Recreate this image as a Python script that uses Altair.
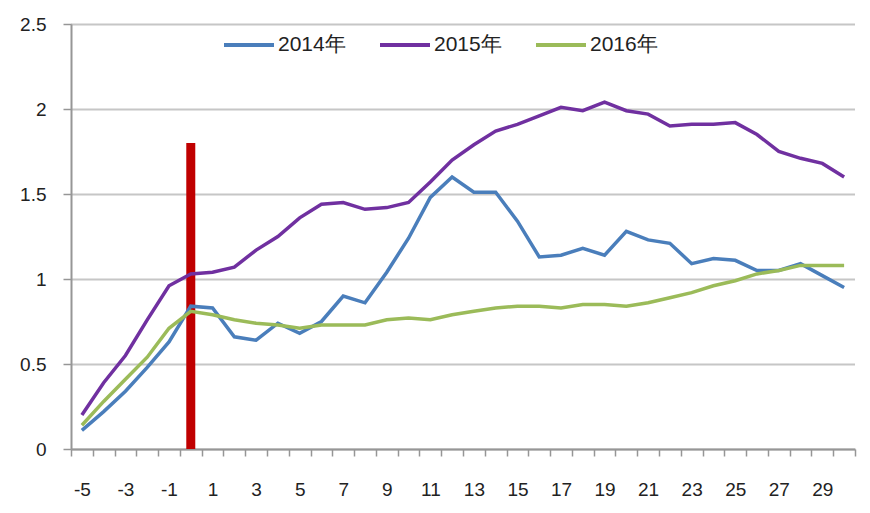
import altair as alt
import pandas as pd

days = [-5, -4, -3, -2, -1, 0, 1, 2, 3, 4, 5, 6, 7, 8, 9, 10, 11, 12, 13, 14, 15,
        16, 17, 18, 19, 20, 21, 22, 23, 24, 25, 26, 27, 28, 29, 30]
v2014 = [0.11, 0.22, 0.34, 0.48, 0.63, 0.84, 0.83, 0.66, 0.64, 0.74, 0.68, 0.75,
         0.90, 0.86, 1.04, 1.24, 1.48, 1.60, 1.51, 1.51, 1.34, 1.13, 1.14, 1.18,
         1.14, 1.28, 1.23, 1.21, 1.09, 1.12, 1.11, 1.05, 1.05, 1.09, 1.02, 0.95]
v2015 = [0.20, 0.39, 0.55, 0.76, 0.96, 1.03, 1.04, 1.07, 1.17, 1.25, 1.36, 1.44,
         1.45, 1.41, 1.42, 1.45, 1.57, 1.70, 1.79, 1.87, 1.91, 1.96, 2.01, 1.99,
         2.04, 1.99, 1.97, 1.90, 1.91, 1.91, 1.92, 1.85, 1.75, 1.71, 1.68, 1.60]
v2016 = [0.14, 0.28, 0.41, 0.54, 0.71, 0.81, 0.79, 0.76, 0.74, 0.73, 0.71, 0.73,
         0.73, 0.73, 0.76, 0.77, 0.76, 0.79, 0.81, 0.83, 0.84, 0.84, 0.83, 0.85,
         0.85, 0.84, 0.86, 0.89, 0.92, 0.96, 0.99, 1.03, 1.05, 1.08, 1.08, 1.08]
series_names = ["2014年", "2015年", "2016年"]
series_colors = ["#4A7EBB", "#7030A0", "#9BBB59"]
marker_day = [0]
marker_value = [1.8]
x_labels = [-5, -3, -1, 1, 3, 5, 7, 9, 11, 13, 15, 17, 19, 21, 23, 25, 27, 29]
x_bounds = [d - 0.5 for d in days] + [days[-1] + 0.5]
y_ticks = [0, 0.5, 1, 1.5, 2, 2.5]

rows = []
for name, vals in zip(series_names, [v2014, v2015, v2016]):
    for d, v in zip(days, vals):
        rows.append({"day": d, "value": v, "series": name})
df = pd.DataFrame(rows)
bar_df = pd.DataFrame({"day": marker_day, "value": marker_value})

FONT = "Liberation Sans"
AX = "#969696"
xscale = alt.Scale(domain=[days[0] - 0.5, days[-1] + 0.5], nice=False, zero=False,
                   padding=0)
yscale = alt.Scale(domain=[0, 2.5], nice=False, padding=0)


def yaxis():
    return alt.Axis(values=y_ticks, title=None, grid=True, gridColor="#8c8c8c",
                    gridDash=[1, 1], gridWidth=2, tickSize=8, tickColor=AX,
                    tickWidth=1.5, domainColor=AX, domainWidth=2,
                    labelPadding=17, labelFontSize=19, labelFont=FONT,
                    labelColor="#222222", labelExpr="'' + datum.value")


bar = alt.Chart(bar_df).mark_bar(color="#C00000", size=9).encode(
    x=alt.X("day:Q", scale=xscale,
            axis=alt.Axis(values=x_bounds, labels=False, title=None, grid=False,
                          tickSize=7, tickColor=AX, tickWidth=1.5,
                          domainColor=AX, domainWidth=2, orient="bottom")),
    y=alt.Y("value:Q", scale=yscale, axis=yaxis()),
)

lines = alt.Chart(df).mark_line(strokeWidth=3.5).encode(
    x=alt.X("day:Q", scale=xscale,
            axis=alt.Axis(values=x_labels, title=None, grid=False, ticks=False,
                          domain=False, labelPadding=31, labelFontSize=19,
                          labelFont=FONT, labelColor="#222222", orient="bottom",
                          labelExpr="'' + datum.value")),
    y=alt.Y("value:Q", scale=yscale, axis=yaxis()),
    color=alt.Color("series:N",
                    scale=alt.Scale(domain=series_names, range=series_colors),
                    legend=alt.Legend(title=None, orient="none", direction="horizontal",
                                      legendX=151, legendY=-6, symbolType="stroke",
                                      symbolSize=2500, symbolStrokeWidth=4,
                                      labelFontSize=21, labelFont=FONT,
                                      labelColor="#222222", columnPadding=26,
                                      labelOffset=2)),
)

chart = alt.layer(bar, lines).resolve_axis(x="independent").properties(
    width=784, height=425,
    autosize=alt.AutoSizeParams(type="none"),
    padding={"left": 63, "top": 16, "right": 7, "bottom": 52},
).configure_view(stroke=None)

chart.save("out.html", embed_options={"renderer": "svg", "actions": False})
